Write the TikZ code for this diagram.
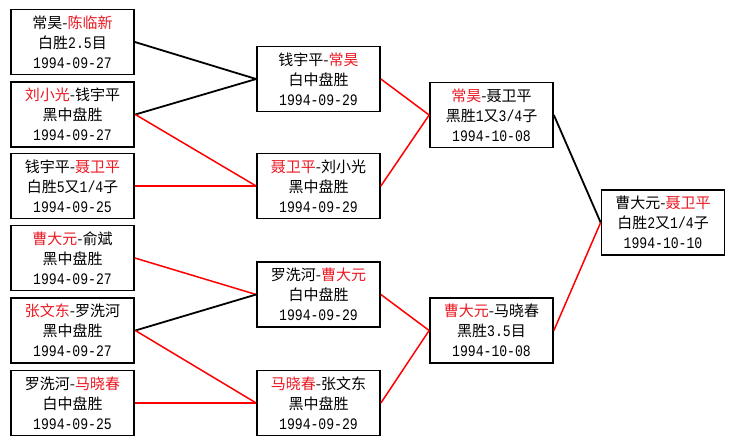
\documentclass[tikz,border=0pt]{standalone}
\usepackage{fontspec}
\setmainfont{Noto Sans CJK SC}
\setmonofont[FakeStretch=0.82]{Liberation Mono}
\definecolor{winred}{RGB}{235,25,35}
\newcommand\R[1]{\textcolor{winred}{#1}}
\newcommand\D[1]{{\ttfamily\fontsize{16}{20}\selectfont #1}}
\begin{document}
\begin{tikzpicture}[x=1pt,y=-1pt,
  box/.style={draw=black,line width=1.7pt,minimum width=123pt,minimum height=65pt,
    inner sep=0pt,align=center,font=\fontsize{15}{20}\selectfont,fill=white},
  boldbox/.style={box,line width=2.7pt},
  blk/.style={draw=black,line width=1.8pt},
  rdl/.style={draw=red,line width=1.5pt}]
\useasboundingbox[fill=white] (0,0) rectangle (735,445);
% column 1
\node[box]     (a1) at (72.5,42)    {常昊-\R{陈临新}\\白胜\D{2.5}目\\\D{1994-09-27}};
\node[boldbox] (a2) at (72.5,114.5) {\R{刘小光}-钱宇平\\黑中盘胜\\\D{1994-09-27}};
\node[box]     (a3) at (72.5,186)   {钱宇平-\R{聂卫平}\\白胜\D{5}又\D{1/4}子\\\D{1994-09-25}};
\node[box]     (a4) at (72.5,258)   {\R{曹大元}-俞斌\\黑中盘胜\\\D{1994-09-27}};
\node[boldbox] (a5) at (72.5,330.5) {\R{张文东}-罗洗河\\黑中盘胜\\\D{1994-09-27}};
\node[box]     (a6) at (72.5,403)   {罗洗河-\R{马晓春}\\白中盘胜\\\D{1994-09-25}};
% column 2
\node[box] (b1) at (318.5,79)    {钱宇平-\R{常昊}\\白中盘胜\\\D{1994-09-29}};
\node[box] (b2) at (318.5,186)   {\R{聂卫平}-刘小光\\黑中盘胜\\\D{1994-09-29}};
\node[box] (b3) at (318.5,294.5) {罗洗河-\R{曹大元}\\白中盘胜\\\D{1994-09-29}};
\node[box] (b4) at (318.5,403)   {\R{马晓春}-张文东\\黑中盘胜\\\D{1994-09-29}};
% column 3
\node[box] (c1) at (491.5,115)   {\R{常昊}-聂卫平\\黑胜\D{1}又\D{3/4}子\\\D{1994-10-08}};
\node[box] (c2) at (491.5,330.5) {\R{曹大元}-马晓春\\黑胜\D{3.5}目\\\D{1994-10-08}};
% column 4
\node[box] (d1) at (663,222.5)   {曹大元-\R{聂卫平}\\白胜\D{2}又\D{1/4}子\\\D{1994-10-10}};
% connectors
\draw[blk] (a1.east) -- (b1.west);
\draw[blk] (a2.east) -- (b1.west);
\draw[rdl] (a2.east) -- (b2.west);
\draw[rdl] (a3.east) -- (b2.west);
\draw[rdl] (a4.east) -- (b3.west);
\draw[blk] (a5.east) -- (b3.west);
\draw[rdl] (a5.east) -- (b4.west);
\draw[rdl] (a6.east) -- (b4.west);
\draw[rdl] (b1.east) -- (c1.west);
\draw[rdl] (b2.east) -- (c1.west);
\draw[rdl] (b3.east) -- (c2.west);
\draw[rdl] (b4.east) -- (c2.west);
\draw[blk] (c1.east) -- (d1.west);
\draw[rdl] (c2.east) -- (d1.west);
\end{tikzpicture}
\end{document}
